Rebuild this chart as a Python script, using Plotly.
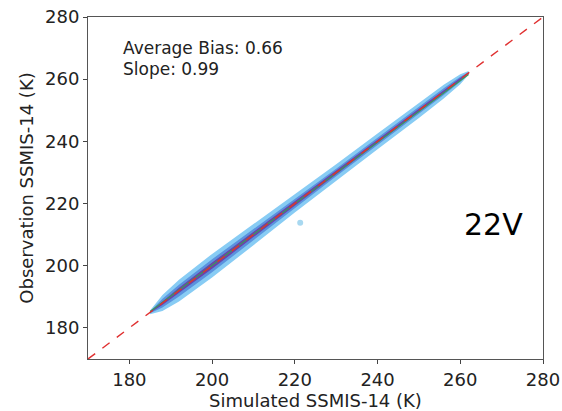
import plotly.graph_objects as go

# Data
band_x = [185, 188, 192, 200, 210, 220, 230, 240, 250, 256, 260, 262]
outer_half = [0.6, 2.6, 3.5, 3.8, 3.4, 2.9, 2.6, 2.5, 2.5, 2.2, 1.6, 0.6]
mid_half = [0.3, 1.4, 1.9, 2.1, 1.8, 1.4, 1.2, 1.2, 1.2, 1.1, 0.8, 0.3]
inner_half = [0.15, 0.6, 0.9, 1.0, 0.8, 0.6, 0.5, 0.5, 0.5, 0.5, 0.4, 0.15]
outlier_x = [221.3]
outlier_y = [213.8]
fit_x = [185, 262]
fit_y = [185.3, 261.5]
one_x = [170, 280]
one_y = [170, 280]
ticks = [180, 200, 220, 240, 260, 280]

fig = go.Figure()

def band(half, color):
    xs = band_x + band_x[::-1]
    ys = [x + h for x, h in zip(band_x, half)] + [x - h for x, h in zip(band_x[::-1], half[::-1])]
    fig.add_trace(go.Scatter(x=xs, y=ys, fill="toself", fillcolor=color,
                             line=dict(width=0, color=color), mode="lines",
                             showlegend=False, hoverinfo="skip"))

band(outer_half, "#88ccf4")
band(mid_half, "#5a92de")
band(inner_half, "#6a45a8")

fig.add_trace(go.Scatter(x=outlier_x, y=outlier_y, mode="markers",
                         marker=dict(size=6, color="#a8d8f0"), showlegend=False))
fig.add_trace(go.Scatter(x=fit_x, y=fit_y, mode="lines",
                         line=dict(color="#3a9a5a", width=1.2), showlegend=False))
fig.add_trace(go.Scatter(x=one_x, y=one_y, mode="lines",
                         line=dict(color="#e03030", width=1.4, dash="dash"), showlegend=False))

axis_common = dict(range=[170, 280], tickvals=ticks, ticks="outside", ticklen=4,
                   tickcolor="#444", showline=True, linecolor="#555", linewidth=1,
                   mirror=True, showgrid=False, zeroline=False, automargin=False,
                   ticklabeloverflow="allow",
                   tickfont=dict(family="DejaVu Sans", size=18, color="#222"))

fig.update_layout(
    width=562, height=411,
    margin=dict(l=88, r=19, t=17, b=52),
    plot_bgcolor="white", paper_bgcolor="white",
    xaxis=dict(**axis_common, title=dict(text="Simulated SSMIS-14 (K)", standoff=0,
                                         font=dict(family="DejaVu Sans", size=18, color="#222"))),
    yaxis=dict(**axis_common, title=dict(text="Observation SSMIS-14 (K)", standoff=6,
                                         font=dict(family="DejaVu Sans", size=18, color="#222"))),
    annotations=[
        dict(x=0.072, y=0.944, xref="paper", yref="paper", xanchor="left", yanchor="top",
             text="Average Bias: 0.66", showarrow=False, align="left",
             font=dict(family="DejaVu Sans", size=17, color="#222")),
        dict(x=0.072, y=0.884, xref="paper", yref="paper", xanchor="left", yanchor="top",
             text="Slope: 0.99", showarrow=False, align="left",
             font=dict(family="DejaVu Sans", size=17, color="#222")),
        dict(x=0.96, y=0.392, xref="paper", yref="paper", xanchor="right", yanchor="middle",
             text="22V", showarrow=False,
             font=dict(family="DejaVu Sans", size=30, color="black")),
    ],
)

fig.write_html("out.html")
